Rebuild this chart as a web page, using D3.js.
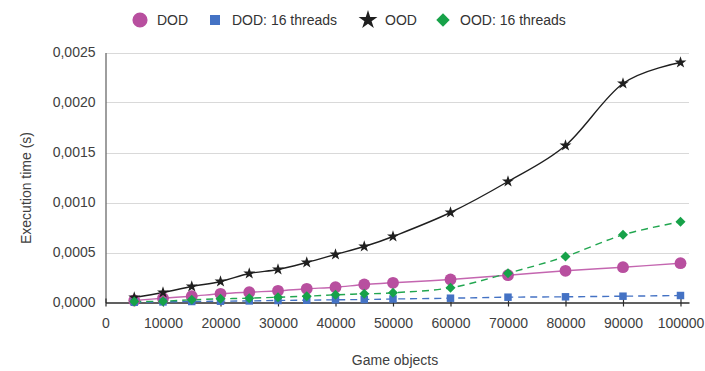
<!DOCTYPE html>
<html>
<head>
<meta charset="utf-8">
<script src="https://cdn.jsdelivr.net/npm/d3@7"></script>
<style>
body { margin: 0; background: #fff; }
text { font-family: "Liberation Sans", Arial, sans-serif; }
</style>
</head>
<body>
<div id="chart"></div>
<script>
var w = 705, h = 371

// data
var objects = [5000, 10000, 15000, 20000, 25000, 30000, 35000, 40000, 45000, 50000, 60000, 70000, 80000, 90000, 100000]
var dod      = [0.00002, 0.000043, 0.000063, 0.000087, 0.000103, 0.000117, 0.000137, 0.000153, 0.00018, 0.000197, 0.00023, 0.000273, 0.000317, 0.000353, 0.000393]
var dod16    = [0.000003, 0.000006, 0.00001, 0.000013, 0.000016, 0.00002, 0.000023, 0.000027, 0.00003, 0.000035, 0.000043, 0.000053, 0.000057, 0.000063, 0.00007]
var ood      = [0.00005, 0.0001, 0.00016, 0.00021, 0.00029, 0.00033, 0.0004, 0.00048, 0.00056, 0.00066, 0.0009, 0.00121, 0.00157, 0.00219, 0.0024]
var ood16    = [0.00001, 0.000013, 0.000027, 0.000037, 0.000043, 0.000053, 0.000063, 0.000077, 0.000087, 0.000097, 0.000147, 0.000293, 0.00046, 0.000677, 0.000807]
var names    = ["DOD", "DOD: 16 threads", "OOD", "OOD: 16 threads"]
var xTicks   = [0, 10000, 20000, 30000, 40000, 50000, 60000, 70000, 80000, 90000, 100000]
var yTicks   = [0, 0.0005, 0.001, 0.0015, 0.002, 0.0025]

var series = [
  {name: names[0], values: dod,   color: "#b84f9f", line: "#c466b0", dash: null,  sym: d3.symbolCircle, size: 110, rot: 0},
  {name: names[1], values: dod16, color: "#4472c4", line: "#4472c4", dash: "7,5", sym: d3.symbolSquare, size: 56,  rot: 0},
  {name: names[2], values: ood,   color: "#1f1f1f", line: "#1f1f1f", dash: null,  sym: d3.symbolStar,   size: 44,  rot: 0},
  {name: names[3], values: ood16, color: "#17a249", line: "#22a650", dash: "7,5", sym: d3.symbolSquare, size: 50,  rot: 45}
]

var svg = d3.select("#chart").append("svg")
  .attr("width", w)
  .attr("height", h)

var x = d3.scaleLinear().domain([0, 101480]).range([105.5, 689])
var y = d3.scaleLinear().domain([0, 0.0025]).range([302.5, 52.5])

var loc = d3.formatLocale({decimal: ",", thousands: ".", grouping: [3], currency: ["", ""]})

// grid
svg.append("g").selectAll("line")
  .data(yTicks.slice(1))
  .enter().append("line")
  .attr("x1", 106).attr("x2", 689)
  .attr("y1", d => Math.round(y(d)) + 0.5).attr("y2", d => Math.round(y(d)) + 0.5)
  .attr("stroke", "#d9d9d9")
  .attr("stroke-width", 1.2)

// y axis
var yAxis = svg.append("g")
  .attr("transform", "translate(105.5,0)")
  .call(d3.axisLeft(y).tickValues(yTicks).tickSize(0).tickPadding(10).tickFormat(loc.format(".4f")))
yAxis.select(".domain").attr("stroke", "#6a6a6a").attr("stroke-width", 1.3)
yAxis.selectAll("text").attr("font-size", 14).attr("fill", "#404040")
  .attr("font-family", "Liberation Sans, Arial, sans-serif")

// x axis
var xAxis = svg.append("g")
  .attr("transform", "translate(0,302.5)")
  .call(d3.axisBottom(x).tickValues(xTicks).tickSize(4).tickSizeOuter(0).tickPadding(12).tickFormat(d3.format("d")))
xAxis.select(".domain").attr("stroke", "#2b2b2b").attr("stroke-width", 1.5)
xAxis.selectAll(".tick line").attr("y1", -4).attr("stroke", "#2b2b2b").attr("stroke-width", 1.2)
xAxis.selectAll("text").attr("font-size", 14).attr("fill", "#404040")
  .attr("font-family", "Liberation Sans, Arial, sans-serif")

// axis titles
svg.append("text")
  .attr("x", 395).attr("y", 365)
  .attr("text-anchor", "middle")
  .attr("font-size", 14).attr("fill", "#404040")
  .text("Game objects")

svg.append("text")
  .attr("transform", "translate(31,188) rotate(-90)")
  .attr("text-anchor", "middle")
  .attr("font-size", 14).attr("fill", "#404040")
  .text("Execution time (s)")

// lines + markers
var line = d3.line()
  .x((d, i) => x(objects[i]))
  .y(d => y(d))
  .curve(d3.curveCardinal.tension(0))

series.forEach(function(s) {
  svg.append("path")
    .attr("d", line(s.values))
    .attr("fill", "none")
    .attr("stroke", s.line)
    .attr("stroke-width", 1.4)
    .attr("stroke-dasharray", s.dash)
})

series.forEach(function(s) {
  svg.append("g").selectAll("path")
    .data(s.values)
    .enter().append("path")
    .attr("d", d3.symbol().type(s.sym).size(s.size))
    .attr("transform", (d, i) => "translate(" + x(objects[i]) + "," + y(d) + ") rotate(" + s.rot + ")")
    .attr("fill", s.color)
})

// legend
var legX = [140, 215, 368, 443]
var legSize = [180, 100, 110, 90]
var leg = svg.append("g").selectAll("g")
  .data(series)
  .enter().append("g")
  .attr("transform", (d, i) => "translate(" + legX[i] + ",20)")

leg.append("path")
  .attr("d", (d, i) => d3.symbol().type(d.sym).size(legSize[i])())
  .attr("transform", d => "rotate(" + d.rot + ")")
  .attr("fill", d => d.color)

leg.append("text")
  .attr("x", 17).attr("y", 5)
  .attr("font-size", 14).attr("fill", "#333")
  .text(d => d.name)
</script>
</body>
</html>
